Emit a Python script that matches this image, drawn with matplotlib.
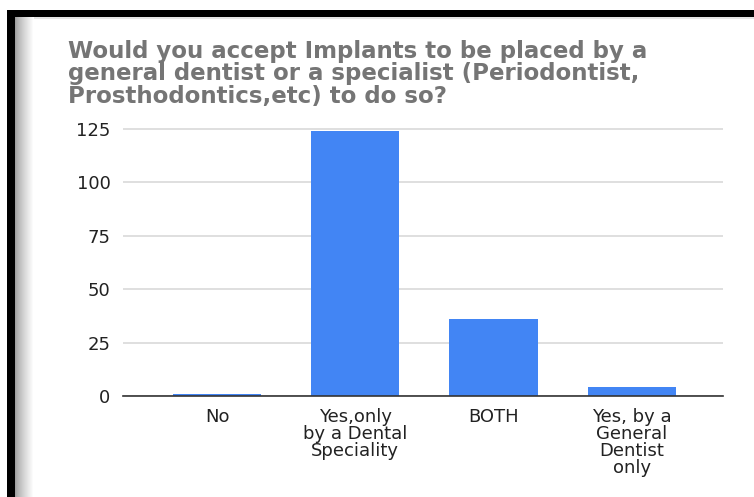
import matplotlib
matplotlib.use("Agg")
import matplotlib.pyplot as plt
from matplotlib.patches import Rectangle
import numpy as np

categories = ["No", "Yes,only\nby a Dental\nSpeciality", "BOTH", "Yes, by a\nGeneral\nDentist\nonly"]
values = [1, 124, 36, 4]
yticks = [0, 25, 50, 75, 100, 125]
title = "Would you accept Implants to be placed by a\ngeneral dentist or a specialist (Periodontist,\nProsthodontics,etc) to do so?"

plt.rcParams['font.family'] = ['DejaVu Sans']

W, H = 754, 497
fig = plt.figure(figsize=(W / 100, H / 100), dpi=100)
fig.patch.set_facecolor('white')

def fx(px):
    return px / W

def fy(py):
    return 1 - py / H

# decorative frame: black top and left bands with soft shadow
fig.patches.append(Rectangle((fx(7), fy(17)), fx(W - 7), fy(10) - fy(17), transform=fig.transFigure,
                             facecolor='black', edgecolor='none', zorder=5))
fig.patches.append(Rectangle((fx(7), 0), fx(8), fy(10), transform=fig.transFigure,
                             facecolor='black', edgecolor='none', zorder=5))
n = 19
for i in range(n):
    g = 0.62 + 0.38 * (i / (n - 1)) ** 0.8
    fig.patches.append(Rectangle((fx(15 + i), 0), fx(1.05), fy(17), transform=fig.transFigure,
                                 facecolor=(g, g, g), edgecolor='none', zorder=4))
fig.patches.append(Rectangle((fx(15), fy(19)), fx(W - 15), fy(17) - fy(19), transform=fig.transFigure,
                             facecolor=(0.9, 0.9, 0.9), edgecolor='none', zorder=3))

ax_left, ax_right = 123, 723
ax_top, ax_bot = 120, 396
ax = fig.add_axes([fx(ax_left), fy(ax_bot), fx(ax_right - ax_left), fy(ax_top) - fy(ax_bot)])
px_per_unit = (396 - 129) / 125
ax.set_ylim(0, (ax_bot - ax_top) / px_per_unit)
x = np.arange(len(categories))
ax.set_xlim(-0.68, 3.66)

ax.bar(x, values, width=0.64, color='#4285F4', zorder=3)

ax.set_yticks(yticks)
ax.set_yticklabels([str(t) for t in yticks])
ax.set_xticks(x)
ax.set_xticklabels(categories, linespacing=0.91)
ax.tick_params(axis='y', length=0, pad=9, labelsize=13, labelcolor='#222222')
ax.tick_params(axis='x', length=0, pad=9, labelsize=13, labelcolor='#222222')
for lab in ax.get_xticklabels():
    lab.set_verticalalignment('top')
    lab.set_horizontalalignment('center')

ax.grid(axis='y', color='#d9d9d9', linewidth=1.2, zorder=0)
for s in ['top', 'right', 'left']:
    ax.spines[s].set_visible(False)
ax.spines['bottom'].set_color('#333333')
ax.spines['bottom'].set_linewidth(1.2)
ax.spines['bottom'].set_zorder(4)

fig.text(fx(68), fy(40), title, ha='left', va='top', fontsize=16.5, fontweight='bold',
         color='#757575', linespacing=0.96)

fig.savefig('out.png', dpi=100)
